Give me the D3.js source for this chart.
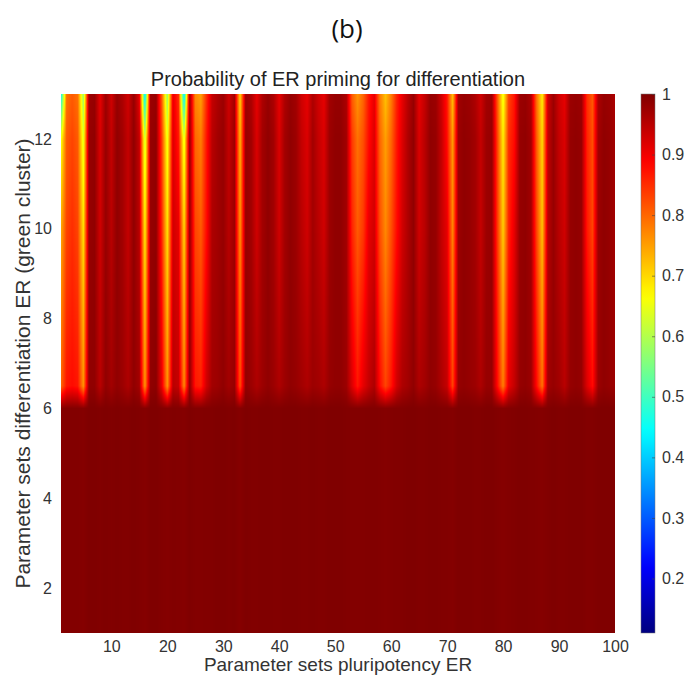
<!DOCTYPE html>
<html>
<head>
<meta charset="utf-8">
<script src="https://cdn.jsdelivr.net/npm/d3@7"></script>
<style>
  body { margin: 0; background: #fff; }
  svg { display: block; }
</style>
</head>
<body>
<div id="chart"></div>
<script>
// Parameter sets along x (pluripotency ER), rows along y (differentiation ER)
const paramSets = d3.range(1, 101);
const rowYs = [1, 6, 6.5, 10, 12, 13];

// Rows 1-6: almost uniform dark red
const baseRow = [
  0.995, 0.997, 0.997, 0.997, 0.995, 1, 1, 0.998, 1, 0.998,
  1, 0.998, 0.998, 1, 0.998, 0.995, 1, 1, 0.997, 0.995,
  0.998, 0.997, 0.995, 1, 0.997, 0.997, 0.998, 0.998, 1, 1,
  0.998, 1, 0.995, 1, 0.998, 0.998, 1, 1, 0.998, 0.998,
  1, 1, 1, 0.998, 0.998, 1, 0.998, 0.998, 1, 1,
  1, 0.998, 0.997, 0.997, 0.997, 0.998, 0.998, 0.997, 0.995, 0.997,
  0.998, 0.998, 1, 1, 0.998, 0.998, 1, 1, 0.998, 0.998,
  0.995, 1, 1, 1, 0.998, 0.998, 1, 1, 0.997, 0.995,
  0.997, 0.998, 1, 1, 0.998, 0.997, 0.995, 0.998, 1, 0.998,
  0.998, 1, 1, 1, 0.997, 0.997, 1, 1, 1, 0.998
];
// Just above y = 6
const rowLow = [
  0.80, 0.87, 0.88, 0.87, 0.76, 0.985, 0.985, 0.95, 0.985, 0.97,
  0.985, 0.975, 0.96, 0.985, 0.97, 0.76, 0.985, 0.99, 0.91, 0.76,
  0.95, 0.94, 0.77, 0.985, 0.87, 0.86, 0.93, 0.97, 0.975, 0.985,
  0.97, 0.98, 0.82, 0.985, 0.975, 0.96, 0.975, 0.985, 0.975, 0.96,
  0.975, 0.985, 0.98, 0.97, 0.96, 0.975, 0.97, 0.96, 0.98, 0.985,
  0.985, 0.975, 0.92, 0.87, 0.91, 0.94, 0.96, 0.88, 0.83, 0.87,
  0.93, 0.96, 0.97, 0.985, 0.96, 0.97, 0.985, 0.98, 0.96, 0.94,
  0.83, 0.98, 0.985, 0.98, 0.975, 0.96, 0.98, 0.98, 0.88, 0.78,
  0.91, 0.94, 0.98, 0.985, 0.975, 0.88, 0.79, 0.97, 0.98, 0.97,
  0.95, 0.98, 0.985, 0.98, 0.92, 0.88, 0.975, 0.985, 0.98, 0.975
];
const row10 = [
  0.74, 0.83, 0.85, 0.83, 0.69, 0.98, 0.985, 0.93, 0.98, 0.95,
  0.985, 0.97, 0.94, 0.985, 0.95, 0.68, 0.98, 0.985, 0.86, 0.69,
  0.93, 0.91, 0.70, 0.98, 0.83, 0.81, 0.88, 0.96, 0.97, 0.98,
  0.95, 0.975, 0.76, 0.98, 0.97, 0.93, 0.97, 0.985, 0.97, 0.93,
  0.97, 0.985, 0.975, 0.95, 0.93, 0.97, 0.95, 0.93, 0.975, 0.985,
  0.985, 0.97, 0.86, 0.81, 0.84, 0.91, 0.93, 0.82, 0.77, 0.82,
  0.88, 0.93, 0.96, 0.985, 0.93, 0.95, 0.985, 0.98, 0.94, 0.91,
  0.77, 0.975, 0.985, 0.98, 0.97, 0.94, 0.975, 0.98, 0.84, 0.71,
  0.86, 0.91, 0.98, 0.985, 0.97, 0.83, 0.72, 0.95, 0.98, 0.95,
  0.93, 0.98, 0.985, 0.98, 0.87, 0.83, 0.975, 0.985, 0.98, 0.97
];
const row12 = [
  0.66, 0.81, 0.83, 0.81, 0.64, 0.98, 0.985, 0.92, 0.98, 0.94,
  0.985, 0.97, 0.94, 0.985, 0.94, 0.62, 0.98, 0.985, 0.84, 0.65,
  0.92, 0.87, 0.64, 0.98, 0.80, 0.78, 0.87, 0.95, 0.97, 0.98,
  0.94, 0.975, 0.73, 0.98, 0.97, 0.92, 0.97, 0.985, 0.97, 0.92,
  0.97, 0.985, 0.975, 0.94, 0.92, 0.97, 0.94, 0.92, 0.975, 0.985,
  0.985, 0.97, 0.84, 0.79, 0.82, 0.88, 0.92, 0.80, 0.75, 0.80,
  0.87, 0.92, 0.96, 0.985, 0.92, 0.95, 0.985, 0.98, 0.94, 0.88,
  0.75, 0.975, 0.985, 0.98, 0.97, 0.94, 0.975, 0.98, 0.83, 0.68,
  0.85, 0.88, 0.98, 0.985, 0.97, 0.81, 0.70, 0.94, 0.98, 0.94,
  0.92, 0.98, 0.985, 0.98, 0.86, 0.82, 0.97, 0.985, 0.98, 0.97
];
const row13 = [
  0.45, 0.79, 0.81, 0.79, 0.58, 0.975, 0.98, 0.91, 0.975, 0.93,
  0.98, 0.96, 0.93, 0.98, 0.91, 0.42, 0.975, 0.98, 0.81, 0.58,
  0.91, 0.85, 0.42, 0.975, 0.77, 0.75, 0.85, 0.94, 0.96, 0.975,
  0.93, 0.97, 0.70, 0.975, 0.96, 0.91, 0.96, 0.98, 0.96, 0.91,
  0.96, 0.98, 0.97, 0.93, 0.91, 0.96, 0.93, 0.91, 0.97, 0.98,
  0.98, 0.96, 0.81, 0.76, 0.80, 0.87, 0.91, 0.78, 0.72, 0.78,
  0.86, 0.91, 0.95, 0.98, 0.91, 0.94, 0.98, 0.975, 0.93, 0.87,
  0.72, 0.97, 0.98, 0.975, 0.96, 0.93, 0.97, 0.975, 0.81, 0.65,
  0.83, 0.87, 0.975, 0.98, 0.96, 0.79, 0.68, 0.93, 0.975, 0.93,
  0.91, 0.975, 0.98, 0.975, 0.85, 0.81, 0.96, 0.98, 0.975, 0.96
];
const rows = [baseRow, baseRow, rowLow, row10, row12, row13];

const xTicks = [10, 20, 30, 40, 50, 60, 70, 80, 90, 100];
const yTicks = [2, 4, 6, 8, 10, 12];
const cTicks = [0.2, 0.3, 0.4, 0.5, 0.6, 0.7, 0.8, 0.9, 1];
const colorMin = 0.11;

const width = 697;
const height = 681;
const plot = { left: 61, right: 615, top: 94, bottom: 633 };
const bar = { left: 641, width: 14 };

// MATLAB jet colormap
const jet = (t) => {
  const c = (k) => Math.max(0, Math.min(1, 1.5 - Math.abs(4 * t - k)));
  return d3.rgb(255 * c(3), 255 * c(2), 255 * c(1)).toString();
};

const x = d3.scaleLinear().domain([1, 100]).range([plot.left, plot.right]);
const y = d3.scaleLinear().domain([1, 13]).range([plot.bottom, plot.top]);
const color = d3.scaleSequential(jet).domain([colorMin, 1]);
const cScale = d3.scaleLinear().domain([colorMin, 1]).range([plot.bottom, plot.top]);

const svg = d3
  .select("#chart")
  .append("svg")
  .attr("width", width)
  .attr("height", height)
  .attr("viewBox", [0, 0, width, height]);

// Interpolated shading (bilinear between grid points), painted on a canvas
const pw = plot.right - plot.left;
const ph = plot.bottom - plot.top;
const canvas = document.createElement("canvas");
canvas.width = pw;
canvas.height = ph;
const ctx = canvas.getContext("2d");
const img = ctx.createImageData(pw, ph);

for (let py = 0; py < ph; py++) {
  const yv = y.invert(plot.top + py + 0.5);
  const k = Math.max(0, Math.min(rowYs.length - 2, d3.bisectRight(rowYs, yv) - 1));
  const ty = (yv - rowYs[k]) / (rowYs[k + 1] - rowYs[k]);
  const lo = rows[k];
  const hi = rows[k + 1];
  for (let px = 0; px < pw; px++) {
    const xv = x.invert(plot.left + px + 0.5);
    const i = Math.max(0, Math.min(paramSets.length - 2, d3.bisectRight(paramSets, xv) - 1));
    const tx = (xv - paramSets[i]) / (paramSets[i + 1] - paramSets[i]);
    const a = lo[i] + (lo[i + 1] - lo[i]) * tx;
    const b = hi[i] + (hi[i + 1] - hi[i]) * tx;
    const c = d3.rgb(color(a + (b - a) * ty));
    const o = (py * pw + px) * 4;
    img.data[o] = c.r;
    img.data[o + 1] = c.g;
    img.data[o + 2] = c.b;
    img.data[o + 3] = 255;
  }
}
ctx.putImageData(img, 0, 0);

svg
  .append("image")
  .attr("x", plot.left)
  .attr("y", plot.top)
  .attr("width", pw)
  .attr("height", ph)
  .attr("preserveAspectRatio", "none")
  .attr("href", canvas.toDataURL());

const font = "'Liberation Sans', Arial, sans-serif";

// Axes
const xAxis = svg
  .append("g")
  .attr("transform", `translate(0,${plot.bottom})`)
  .call(d3.axisBottom(x).tickValues(xTicks).tickSize(0).tickPadding(8));
const yAxis = svg
  .append("g")
  .attr("transform", `translate(${plot.left},0)`)
  .call(d3.axisLeft(y).tickValues(yTicks).tickSize(0).tickPadding(9));

[xAxis, yAxis].forEach((g) => {
  g.select(".domain").remove();
  g.selectAll("text")
    .attr("fill", "#333")
    .attr("font-size", "16px")
    .attr("font-family", font);
});

// Colorbar
const defs = svg.append("defs");
const grad = defs
  .append("linearGradient")
  .attr("id", "jet-grad")
  .attr("x1", 0)
  .attr("y1", 1)
  .attr("x2", 0)
  .attr("y2", 0);
grad
  .selectAll("stop")
  .data(d3.range(0, 1.0001, 0.02))
  .join("stop")
  .attr("offset", (d) => d)
  .attr("stop-color", (d) => jet(d));

svg
  .append("rect")
  .attr("x", bar.left)
  .attr("y", plot.top)
  .attr("width", bar.width)
  .attr("height", ph)
  .attr("fill", "url(#jet-grad)")
  .attr("stroke", "#777")
  .attr("stroke-width", 0.5);

const cAxis = svg
  .append("g")
  .attr("transform", `translate(${bar.left + bar.width},0)`)
  .call(
    d3
      .axisRight(cScale)
      .tickValues(cTicks)
      .tickSize(-3)
      .tickPadding(7)
      .tickFormat(d3.format("~g"))
  );
cAxis.select(".domain").remove();
cAxis.selectAll("line").attr("stroke", "#444").attr("stroke-width", 0.6);
cAxis
  .selectAll("text")
  .attr("fill", "#333")
  .attr("font-size", "16px")
  .attr("font-family", font);

// Titles and labels
svg
  .append("text")
  .attr("x", 347)
  .attr("y", 38)
  .attr("text-anchor", "middle")
  .attr("font-family", "'Open Sans', 'DejaVu Sans', sans-serif")
  .attr("font-size", "26px")
  .attr("fill", "#111")
  .text("(b)");

svg
  .append("text")
  .attr("x", (plot.left + plot.right) / 2)
  .attr("y", 86)
  .attr("text-anchor", "middle")
  .attr("font-family", font)
  .attr("font-size", "20px")
  .attr("fill", "#222")
  .text("Probability of ER priming for differentiation");

svg
  .append("text")
  .attr("x", (plot.left + plot.right) / 2)
  .attr("y", 671)
  .attr("text-anchor", "middle")
  .attr("font-family", font)
  .attr("font-size", "19px")
  .attr("fill", "#333")
  .text("Parameter sets pluripotency ER");

svg
  .append("text")
  .attr("transform", `translate(30,${(plot.top + plot.bottom) / 2}) rotate(-90)`)
  .attr("text-anchor", "middle")
  .attr("font-family", font)
  .attr("font-size", "21px")
  .attr("fill", "#333")
  .text("Parameter sets differentiation ER (green cluster)");
</script>
</body>
</html>
